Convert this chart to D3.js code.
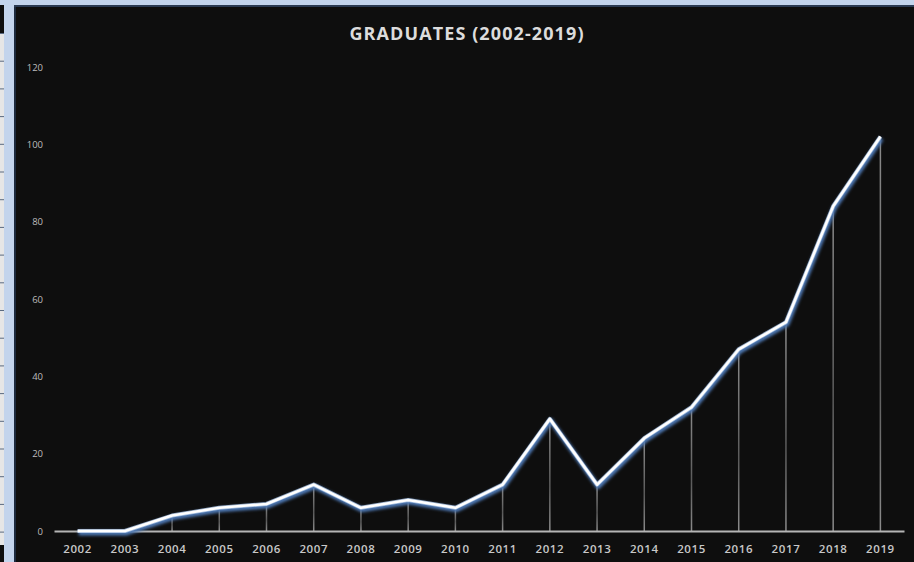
<!DOCTYPE html>
<html>
<head>
<meta charset="utf-8">
<script src="https://cdn.jsdelivr.net/npm/d3@7"></script>
<style>
  html, body { margin: 0; padding: 0; background: #0e0e0e; }
  svg { display: block; }
</style>
</head>
<body>
<script>
// ---- data ----
const years = ["2002","2003","2004","2005","2006","2007","2008","2009","2010","2011","2012","2013","2014","2015","2016","2017","2018","2019"];
const graduates = [0, 0, 4, 6, 7, 12, 6, 8, 6, 12, 29, 12, 24, 32, 47, 54, 84, 102];
const yTicks = [0, 20, 40, 60, 80, 100, 120];
const title = "GRADUATES (2002-2019)";

const W = 914, H = 562;
const svg = d3.select("body").append("svg").attr("width", W).attr("height", H);
const defs = svg.append("defs");

// glow filter
const f = defs.append("filter").attr("id", "glow").attr("x", "-10%").attr("y", "-10%").attr("width", "120%").attr("height", "130%");
f.append("feGaussianBlur").attr("stdDeviation", 1.6);

// drop line gradient
const g = defs.append("linearGradient").attr("id", "drop").attr("x1", 0).attr("y1", 0).attr("x2", 0).attr("y2", 1);
g.append("stop").attr("offset", "0%").attr("stop-color", "#9a9a9a").attr("stop-opacity", 0.9);
g.append("stop").attr("offset", "60%").attr("stop-color", "#6e6e6e").attr("stop-opacity", 0.8);
g.append("stop").attr("offset", "100%").attr("stop-color", "#999").attr("stop-opacity", 0.9);

// background
svg.append("rect").attr("x", 0).attr("y", 0).attr("width", W).attr("height", H).attr("fill", "#0e0e0e");

// spreadsheet frame decoration
const frame = svg.append("g");
frame.append("rect").attr("x", 0).attr("y", 33).attr("width", 5).attr("height", 512).attr("fill", "#e6e6e6");
d3.range(33, 545, 27.7).forEach(yy => {
  frame.append("rect").attr("x", 0).attr("y", yy).attr("width", 5).attr("height", 1).attr("fill", "#5a6a80");
});
frame.append("rect").attr("x", 4).attr("y", 0).attr("width", 10).attr("height", H).attr("fill", "#c3d4ec");
frame.append("rect").attr("x", 0).attr("y", 0).attr("width", W).attr("height", 5).attr("fill", "#c3d4ec");
frame.append("rect").attr("x", 14).attr("y", 5).attr("width", 2).attr("height", H).attr("fill", "#1c2a3e");
frame.append("rect").attr("x", 14).attr("y", 5).attr("width", W).attr("height", 2).attr("fill", "#2a3a52");

// scales
const x = d3.scaleBand().domain(years).range([54, 904]).padding(0);
const y = d3.scaleLinear().domain([0, 120]).range([531, 67]);
const cx = d => x(d) + x.bandwidth() / 2;

// title
svg.append("text")
  .attr("x", 467).attr("y", 40)
  .attr("text-anchor", "middle")
  .attr("font-family", "'Open Sans', sans-serif")
  .attr("font-weight", "bold")
  .attr("font-size", 18)
  .attr("letter-spacing", 1.1)
  .attr("fill", "#dcdcdc")
  .text(title);

// y axis
const yAxis = svg.append("g").attr("transform", "translate(44,0)")
  .call(d3.axisLeft(y).tickValues(yTicks).tickSize(0).tickPadding(1));
yAxis.select(".domain").remove();
yAxis.selectAll("text")
  .attr("font-family", "'Open Sans', sans-serif")
  .attr("font-size", 9.5)
  .attr("fill", "#bdbdbd");

// drop lines
svg.append("g").selectAll("rect")
  .data(years.map((yr, i) => ({ yr, v: graduates[i] })).filter(d => d.v > 0))
  .join("rect")
  .attr("x", d => cx(d.yr) - 0.75)
  .attr("y", d => y(d.v))
  .attr("width", 1.5)
  .attr("height", d => y(0) - y(d.v))
  .attr("fill", "url(#drop)");

// x axis
const xAxis = svg.append("g").attr("transform", "translate(0,531)")
  .call(d3.axisBottom(x).tickSize(0).tickSizeOuter(0).tickPadding(14));
xAxis.select(".domain").attr("stroke", "#b5b5b5").attr("stroke-width", 2);
xAxis.selectAll("text")
  .attr("font-family", "'Open Sans', sans-serif")
  .attr("font-weight", 600)
  .attr("font-size", 11.5)
  .attr("letter-spacing", 0.6)
  .attr("fill", "#c8c8c8");

// line
const pts = years.map((yr, i) => [cx(yr), y(graduates[i])]);
const line = d3.line();
svg.append("path")
  .attr("d", line(pts))
  .attr("transform", "translate(1,2)")
  .attr("fill", "none")
  .attr("stroke", "#4d78b4")
  .attr("stroke-width", 5)
  .attr("stroke-linejoin", "round")
  .attr("filter", "url(#glow)");
svg.append("path")
  .attr("d", line(pts))
  .attr("fill", "none")
  .attr("stroke", "#b8cfee")
  .attr("stroke-width", 4)
  .attr("stroke-linejoin", "round")
  .attr("opacity", 0.8);
svg.append("path")
  .attr("d", line(pts))
  .attr("fill", "none")
  .attr("stroke", "#ffffff")
  .attr("stroke-width", 2.6)
  .attr("stroke-linejoin", "round");
</script>
</body>
</html>
